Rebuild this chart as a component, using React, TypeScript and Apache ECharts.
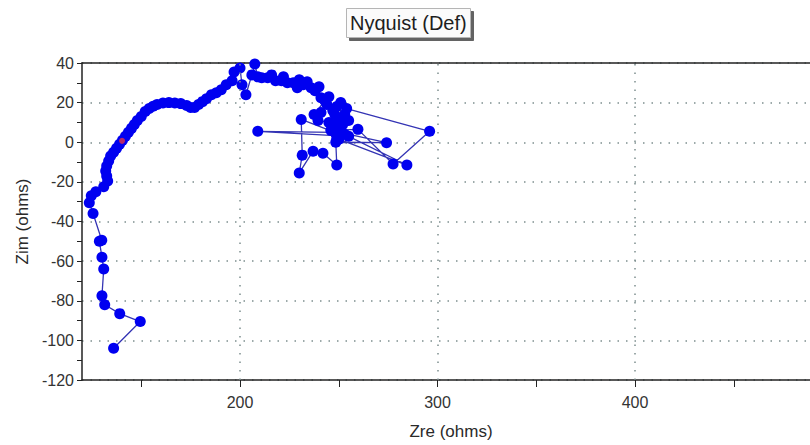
import React, { useEffect, useRef } from "react";
import * as echarts from "echarts";

const zre = [
  249, 284.5, 255, 209, 248, 231, 231.5, 230, 237, 242, 249, 248.5, 274.2, 246, 259.7, 277.5, 296,
  254, 251, 253, 249, 255, 251, 253, 247, 250, 250, 247, 252, 244, 248, 245, 239.5, 241, 237.5,
  243, 245, 241, 238, 240, 236, 234, 232, 230, 229, 227, 224, 222, 221, 218, 216, 214, 211, 209,
  207.5, 206, 203, 201, 200, 197, 196, 193,
  190.5, 188, 185.5, 183, 181, 179, 177, 175, 173, 170, 167, 164, 161, 158, 156, 154, 152, 150,
  148, 146.5, 145, 143.5, 142, 140.5, 139, 137.5, 136, 134.5, 133.5, 132.5, 132, 132.5, 133,
  131, 127, 124.7, 123.7, 125.6, 130, 128.8, 130.1, 131, 130.1, 131.5, 139.1, 149.5, 136,
];
const zim = [
  2, -11.5, 3, 5.5, 5, 11.5, -6.5, -15.5, -4.5, -5.5, -11.5, 0, -0.2, 6, 6.5, -11, 5.5,
  17, 20, 14, 18, 11, 6, 4, 9, 1.5, 12, 16, 9, 19, 14, 10, 11, 15, 14,
  21, 23, 22.5, 26, 28, 27.5, 30.5, 29, 31.5, 27.5, 30, 30, 33, 31, 31, 34, 32.5, 32.5, 33,
  39.5, 34, 24, 29, 37.5, 35.5, 31, 29,
  26.5, 25, 24, 22, 20.5, 19, 17.5, 17.5, 18.5, 19.5, 19.8, 20, 19.8, 19, 18.2, 17, 15.5, 13,
  11, 9, 7, 5, 3, 1, -1, -3, -5, -7, -9.5, -12, -14.5, -17, -19.5,
  -22.5, -25, -27, -30.5, -36, -49.5, -50, -58, -64, -77.5, -82, -86.5, -90.5, -104,
];
const markerZre = [140.3];
const markerZim = [0.7];
const xTicks = [150, 200, 250, 300, 350, 400, 450];
const xLabels = [200, 300, 400];
const xGrid = [200, 300, 400];

const FONT = "Liberation Sans";
const DOT = { color: "#7d8f8f", width: 1.5, type: [1.5, 7] as number[] };
const XMIN = 120;
const XMAX = 488.6;

export default function App() {
  const ref = useRef<HTMLDivElement>(null);
  useEffect(() => {
    if (!ref.current) return;
    const chart = echarts.init(ref.current, null, { renderer: "svg" });
    const pts = zre.map((x, i) => [x, zim[i]]);
    const red = markerZre.map((x, i) => [x, markerZim[i]]);
    chart.setOption({
      animation: false,
      backgroundColor: "#ffffff",
      title: {
        text: "Nyquist (Def)",
        left: 346,
        top: 8,
        padding: [5, 4, 5, 4],
        backgroundColor: "#fbfbfb",
        borderColor: "#b5b5b5",
        borderWidth: 1,
        shadowColor: "rgba(70,70,70,0.85)",
        shadowOffsetX: 3,
        shadowOffsetY: 3,
        shadowBlur: 0,
        textStyle: { fontFamily: FONT, fontSize: 20, fontWeight: "normal", color: "#1e1e1e" },
      },
      grid: {
        left: 82,
        top: 63,
        bottom: 62,
        right: 0,
        show: false,
      },
      xAxis: [
        {
          type: "value",
          min: XMIN,
          max: XMAX,
          name: "Zre (ohms)",
          nameLocation: "middle",
          nameGap: 43,
          nameTextStyle: { fontFamily: FONT, fontSize: 17, color: "#2a2a2a", padding: [0, 0, 0, 10] },
          axisLine: { show: true, onZero: false, lineStyle: { color: "#222", width: 1.5 } },
          axisTick: { show: true, length: 7, customValues: xTicks, lineStyle: { color: "#222", width: 1 } },
          axisLabel: {
            customValues: xLabels,
            margin: 14,
            fontFamily: FONT,
            fontSize: 16,
            color: "#333",
          },
          splitLine: { show: false },
        },
        {
          type: "value",
          position: "top",
          min: XMIN,
          max: XMAX,
          axisLine: { show: true, onZero: false, lineStyle: { color: "#222", width: 1.5 } },
          axisTick: { show: false },
          axisLabel: { show: false },
          splitLine: { show: false },
        },
      ],
      yAxis: {
        type: "value",
        min: -120,
        max: 40,
        interval: 20,
        name: "Zim (ohms)",
        nameLocation: "middle",
        nameGap: 45,
        nameTextStyle: { fontFamily: FONT, fontSize: 17, color: "#2a2a2a" },
        axisLine: { show: true, onZero: false, lineStyle: { color: "#222", width: 1.5 } },
        axisTick: { show: true, length: 5, lineStyle: { color: "#222", width: 1 } },
        minorTick: { show: true, splitNumber: 2, length: 5, lineStyle: { color: "#222", width: 1 } },
        axisLabel: { margin: 8, fontFamily: FONT, fontSize: 16, color: "#333" },
        splitLine: { show: true, lineStyle: DOT },
      },
      series: [
        {
          type: "line",
          data: [],
          z: 1,
          silent: true,
          markLine: {
            silent: true,
            symbol: ["none", "none"],
            label: { show: false },
            lineStyle: DOT,
            data: xGrid.map((v) => ({ xAxis: v })),
          },
        },
        {
          type: "line",
          data: pts,
          z: 3,
          symbol: "circle",
          symbolSize: 11,
          showAllSymbol: true,
          itemStyle: { color: "#0000f0" },
          lineStyle: { color: "#3434b4", width: 1.3 },
        },
        {
          type: "scatter",
          data: red,
          z: 4,
          symbol: "circle",
          symbolSize: 6,
          itemStyle: { color: "#e0304a" },
        },
      ],
    });
    return () => chart.dispose();
  }, []);
  return <div ref={ref} style={{ position: "fixed", left: 0, top: 0, width: 810, height: 445 }} />;
}
